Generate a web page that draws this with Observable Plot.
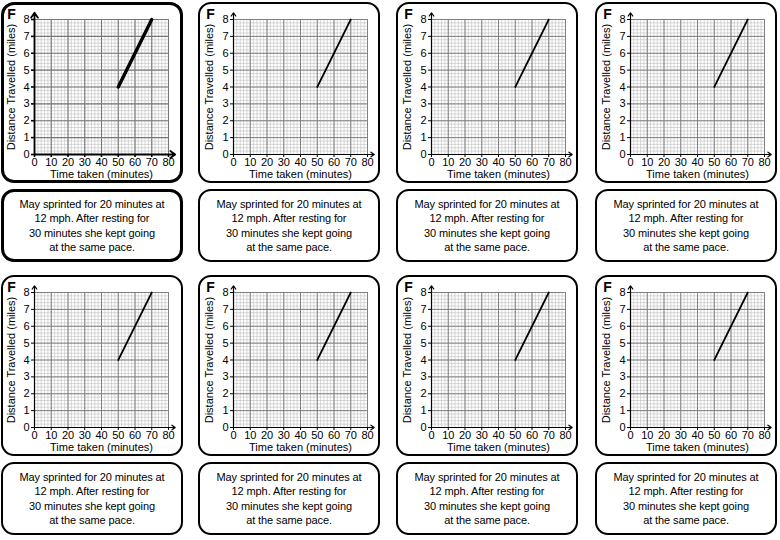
<!DOCTYPE html>
<html>
<head>
<meta charset="utf-8">
<script src="https://cdn.jsdelivr.net/npm/d3@7"></script>
<script src="https://cdn.jsdelivr.net/npm/@observablehq/plot@0.6"></script>
<style>
  html, body { margin: 0; padding: 0; background: #fff; }
  body { width: 780px; height: 540px; position: relative; overflow: hidden;
         font-family: "Liberation Sans", sans-serif; }
  .box { position: absolute; box-sizing: border-box; border: 2.6px solid #000; border-radius: 13px; background: transparent; }
  .chart { position: absolute; }
  .txt { display: flex; align-items: center; justify-content: center; text-align: center;
         font-size: 11px; letter-spacing: -0.1px; line-height: 14.5px; color: #000; }
</style>
</head>
<body>
<script>
// ---- data ----
const time = [50, 70];          // minutes
const distance = [4, 8];        // miles
const xTicks = [0, 10, 20, 30, 40, 50, 60, 70, 80];
const yTicks = [0, 1, 2, 3, 4, 5, 6, 7, 8];
const xMinor = d3.range(0, 81, 2);
const yMinor = d3.range(0, 41).map(i => i / 5);
const cardLetter = "F";
const xLabel = "Time taken (minutes)";
const yLabel = "Distance Travelled (miles)";
const storyLines = [
  "May sprinted for 20 minutes at",
  "12 mph. After resting for",
  "30 minutes she kept going",
  "at the same pace."
];
const xArrowEnd = 84;
const yArrowEnd = 8.4;

// ---- layout ----
const colLeft = [1, 198, 396, 595];
const rowTop = [2, 275];
const textTop = [189, 462];
const cardW = 183, chartH = 181, textH = 73;

const points = time.map((t, i) => ({t, d: distance[i]}));

function makeChart(bold, col) {
  const mL = col === 0 ? 33 : 35;
  const mR = col === 0 ? 16 : 14;
  return Plot.plot({
    width: cardW,
    height: chartH,
    marginLeft: mL,
    marginRight: mR,
    marginTop: 17,
    marginBottom: 29,
    x: {domain: [0, 80], axis: null},
    y: {domain: [0, 8], axis: null},
    style: {background: "transparent", overflow: "visible",
            fontFamily: '"Liberation Sans", sans-serif', fontSize: "11px", color: "#000"},
    marks: [
      Plot.gridX(xMinor, {stroke: "#bdbdbd", strokeOpacity: 1, strokeWidth: 0.6}),
      Plot.gridY(yMinor, {stroke: "#bdbdbd", strokeOpacity: 1, strokeWidth: 0.6}),
      Plot.gridX(xTicks, {stroke: "#777", strokeOpacity: 1, strokeWidth: bold ? 1.1 : 0.9}),
      Plot.gridY(yTicks, {stroke: "#777", strokeOpacity: 1, strokeWidth: bold ? 1.1 : 0.9}),
      Plot.axisX(xTicks, {tickSize: 3, tickPadding: 1, fontSize: 11, label: null, stroke: "#000", strokeWidth: bold ? 1.6 : 1, fill: "#000"}),
      Plot.axisY(yTicks, {tickSize: 3, tickPadding: 2, fontSize: 11, label: null, stroke: "#000", strokeWidth: bold ? 1.6 : 1, fill: "#000"}),
      Plot.arrow([0], {x1: 0, y1: 0, x2: xArrowEnd, y2: 0, stroke: "#000", strokeWidth: bold ? 1.8 : 1.2, headLength: 5, headAngle: 70}),
      Plot.arrow([0], {x1: 0, y1: 0, x2: 0, y2: yArrowEnd, stroke: "#000", strokeWidth: bold ? 1.8 : 1.2, headLength: 5, headAngle: 70}),
      Plot.line(points, {x: "t", y: "d", stroke: "#000", strokeWidth: bold ? 3.4 : 1.7}),
      Plot.text([xLabel], {frameAnchor: "bottom", textAnchor: "middle", lineAnchor: "middle", dy: 20, fontSize: 11, fill: "#000"}),
      Plot.text([yLabel], {frameAnchor: "left", textAnchor: "middle", lineAnchor: "middle", rotate: -90, dx: mL === 33 ? -23 : -24, fontSize: 11, fill: "#000"}),
      Plot.text([cardLetter], {frameAnchor: "top-left", textAnchor: "middle", lineAnchor: "middle", dx: -23, dy: -5, fontSize: 14, fontWeight: "bold", fill: "#000"})
    ]
  });
}

for (let r = 0; r < 2; r++) {
  for (let c = 0; c < 4; c++) {
    const bold = (r === 0 && c === 0);
    const svg = makeChart(bold, c);
    svg.classList.add("chart");
    svg.style.left = colLeft[c] + "px";
    svg.style.top = rowTop[r] + "px";
    document.body.appendChild(svg);

    const box = document.createElement("div");
    box.className = "box";
    box.style.left = colLeft[c] + "px";
    box.style.top = rowTop[r] + "px";
    box.style.width = (cardW - 1) + "px";
    box.style.height = chartH + "px";
    if (bold) box.style.borderWidth = "3px";
    document.body.appendChild(box);

    const tb = document.createElement("div");
    tb.className = "box txt";
    tb.style.left = colLeft[c] + "px";
    tb.style.top = textTop[r] + "px";
    tb.style.width = (cardW - 1) + "px";
    tb.style.height = textH + "px";
    if (bold) tb.style.borderWidth = "3px";
    const inner = document.createElement("div");
    storyLines.forEach((line, i) => {
      if (i) inner.appendChild(document.createElement("br"));
      inner.appendChild(document.createTextNode(line));
    });
    tb.appendChild(inner);
    document.body.appendChild(tb);
  }
}
</script>
</body>
</html>
